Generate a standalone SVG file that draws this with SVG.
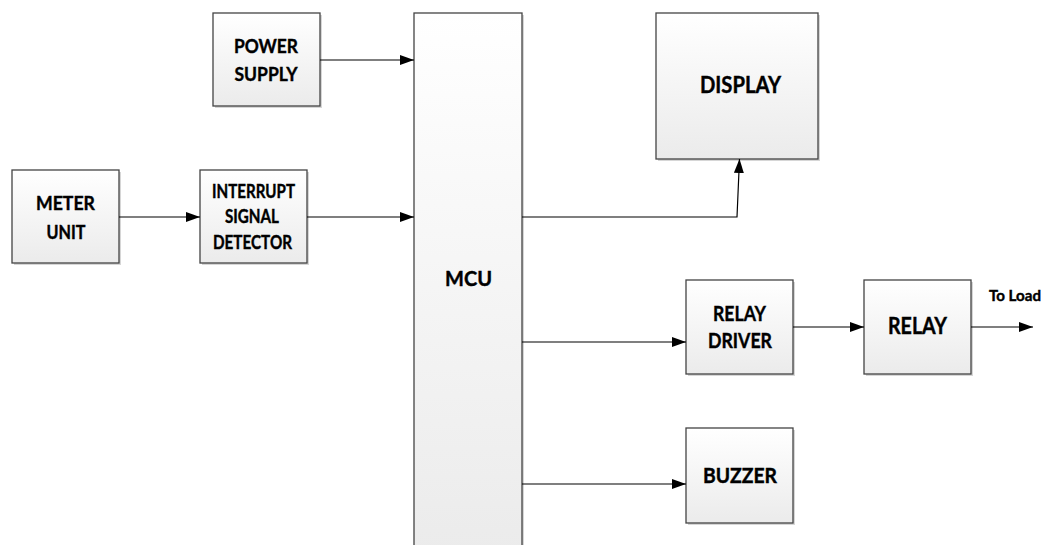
<svg xmlns="http://www.w3.org/2000/svg" width="1041" height="545" viewBox="0 0 1041 545">
<style>
.box{fill:url(#g);stroke:#444;stroke-width:1.3}
.sh{fill:#bbb;opacity:0.6}
.t{font-family:Lato,"Liberation Sans",sans-serif;font-weight:bold;fill:#000;stroke:#000;stroke-width:0.4;text-anchor:middle}
.c{fill:none;stroke:#000;stroke-width:1.2}
</style>
<defs>
<linearGradient id="g" x1="0" y1="0" x2="0" y2="1">
<stop offset="0" stop-color="#ffffff"/>
<stop offset="1" stop-color="#ebebeb"/>
</linearGradient>
<marker id="a" markerUnits="userSpaceOnUse" markerWidth="16" markerHeight="12" refX="14" refY="5" orient="auto">
<path d="M0,0 L14,5 L0,10 Z" fill="#000"/>
</marker>
</defs>
<rect width="1041" height="545" fill="#fff"/>
<g id="power-supply">
<rect class="sh" x="215" y="15" width="107" height="93"/>
<rect class="box" x="213" y="13" width="107" height="93"/>
<text class="t" x="266" y="53" font-size="19" textLength="64" lengthAdjust="spacingAndGlyphs">POWER</text>
<text class="t" x="266" y="81" font-size="19" textLength="63" lengthAdjust="spacingAndGlyphs">SUPPLY</text>
</g>
<g id="meter-unit">
<rect class="sh" x="14" y="172" width="107" height="93"/>
<rect class="box" x="12" y="170" width="107" height="93"/>
<text class="t" x="65.5" y="210" font-size="19" textLength="59" lengthAdjust="spacingAndGlyphs">METER</text>
<text class="t" x="66" y="239" font-size="19" textLength="39" lengthAdjust="spacingAndGlyphs">UNIT</text>
</g>
<g id="interrupt-signal-detector">
<rect class="sh" x="202" y="172" width="107" height="93"/>
<rect class="box" x="200" y="170" width="107" height="93"/>
<text class="t" x="253.5" y="198" font-size="18" textLength="83" lengthAdjust="spacingAndGlyphs">INTERRUPT</text>
<text class="t" x="252" y="223" font-size="18" textLength="54" lengthAdjust="spacingAndGlyphs">SIGNAL</text>
<text class="t" x="252.5" y="249" font-size="18" textLength="79" lengthAdjust="spacingAndGlyphs">DETECTOR</text>
</g>
<g id="mcu">
<rect class="sh" x="416" y="15" width="108" height="540"/>
<rect class="box" x="414" y="13" width="108" height="545"/>
<text class="t" x="468.5" y="286" font-size="20" textLength="47" lengthAdjust="spacingAndGlyphs">MCU</text>
</g>
<g id="display">
<rect class="sh" x="658" y="15" width="162" height="146"/>
<rect class="box" x="656" y="13" width="162" height="146"/>
<text class="t" x="740.5" y="93" font-size="22" textLength="81" lengthAdjust="spacingAndGlyphs">DISPLAY</text>
</g>
<g id="relay-driver">
<rect class="sh" x="688" y="282" width="107" height="94"/>
<rect class="box" x="686" y="280" width="107" height="94"/>
<text class="t" x="739.5" y="321" font-size="21" textLength="53" lengthAdjust="spacingAndGlyphs">RELAY</text>
<text class="t" x="740" y="348" font-size="21" textLength="64" lengthAdjust="spacingAndGlyphs">DRIVER</text>
</g>
<g id="relay">
<rect class="sh" x="866" y="282" width="107" height="94"/>
<rect class="box" x="864" y="280" width="107" height="94"/>
<text class="t" x="917.5" y="334" font-size="23" textLength="59" lengthAdjust="spacingAndGlyphs">RELAY</text>
</g>
<g id="buzzer">
<rect class="sh" x="688" y="430" width="107" height="95"/>
<rect class="box" x="686" y="428" width="107" height="95"/>
<text class="t" x="740" y="483" font-size="21" textLength="74" lengthAdjust="spacingAndGlyphs">BUZZER</text>
</g>
<g id="connectors">
<line class="c" x1="320" y1="60" x2="414" y2="60" marker-end="url(#a)"/>
<line class="c" x1="119" y1="217" x2="200" y2="217" marker-end="url(#a)"/>
<line class="c" x1="307" y1="217" x2="414" y2="217" marker-end="url(#a)"/>
<polyline class="c" points="522,217 737,217 739.5,159" marker-end="url(#a)"/>
<line class="c" x1="522" y1="342" x2="686" y2="342" marker-end="url(#a)"/>
<line class="c" x1="522" y1="484" x2="686" y2="484" marker-end="url(#a)"/>
<line class="c" x1="793" y1="327" x2="864" y2="327" marker-end="url(#a)"/>
<line class="c" x1="971" y1="327" x2="1033" y2="327" marker-end="url(#a)"/>
<text class="t" x="1015" y="301" font-size="15" textLength="52" lengthAdjust="spacingAndGlyphs">To Load</text>
</g>
</svg>
